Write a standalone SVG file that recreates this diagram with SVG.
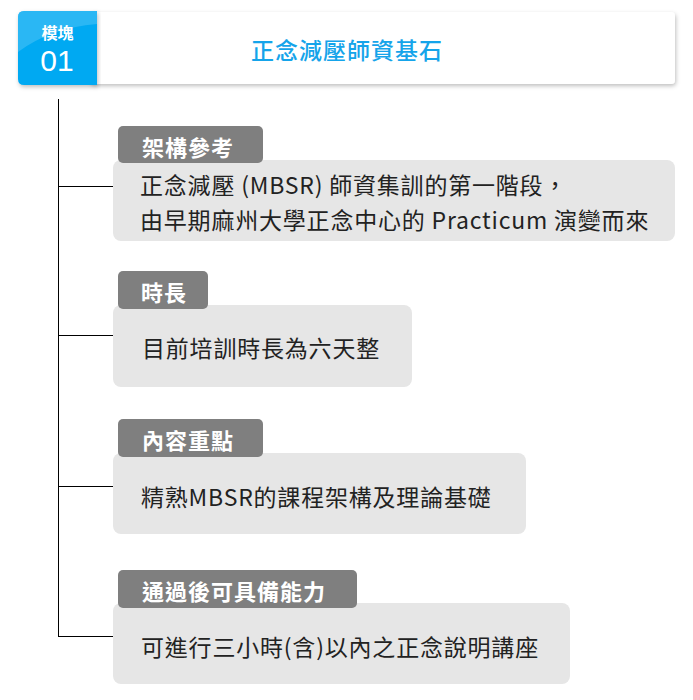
<svg xmlns="http://www.w3.org/2000/svg" width="693" height="700" viewBox="0 0 693 700">
<defs>
<filter id="sh" x="-5%" y="-20%" width="110%" height="150%">
<feDropShadow dx="1" dy="2" stdDeviation="2" flood-color="#000" flood-opacity="0.25"/>
</filter>
<clipPath id="bc"><path d="M24,11 H97 V85 H24 Q18,85 18,79 V17 Q18,11 24,11 Z"/></clipPath>
</defs>
<style>
.lbl{fill:#7f7f7f}
.box{fill:#e6e6e6}
.lt{font-family:"Noto Sans CJK TC","Noto Sans CJK SC",sans-serif;font-size:22px;font-weight:bold;fill:#fff;letter-spacing:1px;dominant-baseline:central}
.bt{font-family:"Noto Sans CJK TC","Noto Sans CJK SC",sans-serif;font-size:23px;fill:#222;letter-spacing:0.8px;dominant-baseline:central}
.con{stroke:#000;stroke-width:1;fill:none}
</style>
<g id="header">
<rect x="90" y="12" width="585" height="72" rx="4" fill="#fff" filter="url(#sh)"/>
<g filter="url(#sh)">
<path d="M24,11 H97 V85 H24 Q18,85 18,79 V17 Q18,11 24,11 Z" fill="#05a9f2"/>
</g>
<path d="M18,11 H97 V24 Q50,28 18,52 Z" fill="#4cc3f6" opacity="0.55" clip-path="url(#bc)"/>
<text x="57.5" y="32" text-anchor="middle" font-family="Noto Sans CJK TC,sans-serif" font-size="16" font-weight="bold" fill="#fff" dominant-baseline="central">模塊</text>
<text x="57" y="71" text-anchor="middle" font-family="Liberation Sans,Arial,sans-serif" font-size="30" fill="#fff">01</text>
<text x="347" y="49" text-anchor="middle" font-family="Noto Sans CJK TC,sans-serif" font-size="23" font-weight="500" letter-spacing="1" fill="#15a4ea" dominant-baseline="central">正念減壓師資基石</text>
</g>
<g id="connectors">
<line class="con" x1="58.5" y1="99" x2="58.5" y2="636.5"/>
<line class="con" x1="58" y1="186.5" x2="113" y2="186.5"/>
<line class="con" x1="58" y1="335.5" x2="113" y2="335.5"/>
<line class="con" x1="58" y1="486.5" x2="113" y2="486.5"/>
<line class="con" x1="58" y1="636.5" x2="113" y2="636.5"/>
</g>
<g id="node1">
<rect class="box" x="113" y="160" width="562" height="81" rx="8"/>
<rect class="lbl" x="118" y="126" width="145" height="37" rx="5"/>
<text class="lt" x="142" y="146">架構參考</text>
<text class="bt" x="140" y="184">正念減壓 (MBSR) 師資集訓的第一階段，</text>
<text class="bt" x="140" y="219">由早期麻州大學正念中心的 Practicum 演變而來</text>
</g>
<g id="node2">
<rect class="box" x="113" y="305" width="299" height="82" rx="8"/>
<rect class="lbl" x="118" y="271" width="90" height="38" rx="5"/>
<text class="lt" x="141" y="291">時長</text>
<text class="bt" x="142" y="347">目前培訓時長為六天整</text>
</g>
<g id="node3">
<rect class="box" x="113" y="453" width="413" height="81" rx="8"/>
<rect class="lbl" x="118" y="419" width="145" height="38" rx="5"/>
<text class="lt" x="142" y="439">內容重點</text>
<text class="bt" x="141" y="496">精熟MBSR的課程架構及理論基礎</text>
</g>
<g id="node4">
<rect class="box" x="113" y="603" width="457" height="81" rx="8"/>
<rect class="lbl" x="118" y="570" width="239" height="38" rx="5"/>
<text class="lt" x="142" y="590">通過後可具備能力</text>
<text class="bt" x="141" y="646">可進行三小時(含)以內之正念說明講座</text>
</g>
</svg>
